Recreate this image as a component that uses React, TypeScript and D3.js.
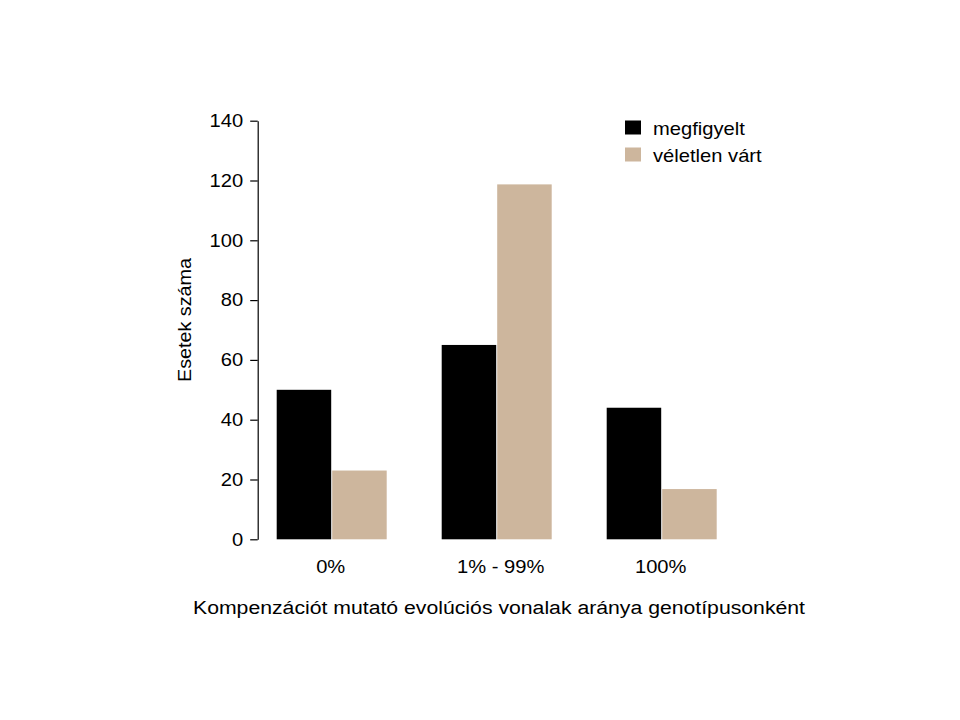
import React, { useEffect, useRef } from "react";
import * as d3 from "d3";

const categories = ["0%", "1% - 99%", "100%"];
const seriesNames = ["megfigyelt", "véletlen várt"];
const observed = [50, 65, 44];
const expected = [23, 118.7, 16.8];
const yTicks = [0, 20, 40, 60, 80, 100, 120, 140];
const colors = ["#000000", "#cdb69d"];
const yTitle = "Esetek száma";
const xTitle = "Kompenzációt mutató evolúciós vonalak aránya genotípusonként";

export default function App() {
  const ref = useRef<SVGSVGElement>(null);
  useEffect(() => {
    const svg = d3.select(ref.current);
    svg.selectAll("*").remove();
    const font = "'Liberation Sans', Arial, sans-serif";
    const fs = 18;
    const sx = 1.12;
    const y = d3.scaleLinear().domain([0, 140]).range([539.3, 120.7]);
    const x0 = d3.scaleBand<string>().domain(categories).range([249.2, 744.2]).paddingInner(1 / 3).paddingOuter(1 / 6);
    const x1 = d3.scaleBand<string>().domain(seriesNames).range([0, x0.bandwidth()]);
    const values = [observed, expected];

    const hText = (x: number, yy: number, s: string, anchor: string) => {
      svg.append("g")
        .attr("transform", `translate(${x},${yy}) scale(${sx},1)`)
        .append("text")
        .attr("text-anchor", anchor)
        .attr("font-family", font)
        .attr("font-size", fs)
        .attr("fill", "#000")
        .text(s);
    };

    const g = svg.append("g");
    categories.forEach((c, i) => {
      seriesNames.forEach((s, j) => {
        const v = values[j][i];
        g.append("rect")
          .attr("x", (x0(c) as number) + (x1(s) as number) + (j === 1 ? 0.5 : 0))
          .attr("y", y(v))
          .attr("width", x1.bandwidth() - 0.5)
          .attr("height", y(0) - y(v))
          .attr("fill", colors[j]);
      });
    });

    const yAxis = d3.axisLeft(y).tickValues(yTicks).tickSize(7.5).tickSizeOuter(0).tickPadding(7);
    const ga = svg.append("g").attr("transform", "translate(257.7,0)").call(yAxis as any);
    ga.select(".domain").attr("stroke", "#000").attr("stroke-width", 1.2);
    ga.selectAll(".tick line").attr("stroke", "#000").attr("stroke-width", 1.2);
    ga.selectAll(".tick text")
      .attr("font-family", font)
      .attr("font-size", fs)
      .attr("fill", "#000")
      .attr("x", -14.5 / sx)
      .attr("transform", `scale(${sx},1)`);

    categories.forEach((c) => {
      hText((x0(c) as number) + x0.bandwidth() / 2 + (c === "1% - 99%" ? 4 : -1), 573, c, "middle");
    });

    svg.append("text")
      .attr("x", 499)
      .attr("y", 614)
      .attr("text-anchor", "middle")
      .attr("font-family", font)
      .attr("font-size", fs)
      .attr("textLength", 612)
      .attr("lengthAdjust", "spacingAndGlyphs")
      .text(xTitle);

    svg.append("text")
      .attr("transform", "translate(191,320) rotate(-90)")
      .attr("text-anchor", "middle")
      .attr("font-family", font)
      .attr("font-size", fs)
      .attr("textLength", 124)
      .attr("lengthAdjust", "spacingAndGlyphs")
      .text(yTitle);

    seriesNames.forEach((s, j) => {
      svg.append("rect")
        .attr("x", 625)
        .attr("y", 120.5 + j * 27)
        .attr("width", 16)
        .attr("height", 14)
        .attr("fill", colors[j]);
      hText(653, 135 + j * 27, s, "start");
    });
  }, []);
  return (
    <svg ref={ref} width={960} height={720} style={{ position: "absolute", left: 0, top: 0 }} />
  );
}
